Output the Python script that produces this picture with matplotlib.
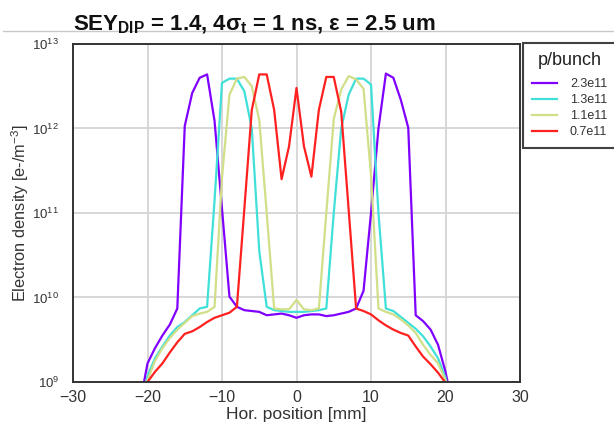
import numpy as np
import matplotlib
matplotlib.use("Agg")
import matplotlib.pyplot as plt
from matplotlib.lines import Line2D

plt.rcParams['font.family'] = ['Liberation Sans', 'DejaVu Sans']
plt.rcParams['mathtext.fontset'] = 'custom'
plt.rcParams['mathtext.rm'] = 'Liberation Sans'
plt.rcParams['mathtext.it'] = 'Liberation Sans'
plt.rcParams['mathtext.bf'] = 'Liberation Sans:bold'

x_mm = list(range(-21, 22))

log_23e11 = [8.75, 9.22, 9.40, 9.55, 9.68, 9.87, 12.03, 12.42, 12.60, 12.64, 12.09,
             11.05, 10.01, 9.89, 9.85, 9.84, 9.83, 9.79, 9.80, 9.81, 9.79, 9.76,
             9.79, 9.80, 9.80, 9.78, 9.79, 9.81, 9.83, 9.87, 10.08, 11.0, 12.0,
             12.65, 12.60, 12.34, 12.01, 9.79, 9.72, 9.62, 9.44, 9.12, 8.7]
log_13e11 = [8.6, 9.07, 9.28, 9.42, 9.55, 9.65, 9.71, 9.79, 9.87, 9.89, 11.15,
             12.54, 12.59, 12.59, 12.44, 12.0, 10.55, 9.89, 9.85, 9.84, 9.83, 9.83,
             9.83, 9.84, 9.85, 9.87, 11.0, 12.0, 12.40, 12.59, 12.59, 12.52, 11.0,
             9.87, 9.84, 9.77, 9.70, 9.63, 9.54, 9.42, 9.28, 9.05, 8.6]
log_11e11 = [8.6, 9.02, 9.25, 9.40, 9.52, 9.62, 9.70, 9.78, 9.81, 9.83, 9.89,
             11.42, 12.40, 12.59, 12.61, 12.50, 12.10, 11.0, 9.87, 9.86, 9.86, 9.97,
             9.86, 9.85, 9.87, 11.0, 12.11, 12.46, 12.62, 12.58, 12.47, 11.45, 9.87,
             9.83, 9.80, 9.74, 9.67, 9.58, 9.44, 9.32, 9.22, 9.02, 8.5]
log_07e11 = [8.5, 9.0, 9.12, 9.22, 9.35, 9.47, 9.57, 9.60, 9.65, 9.71, 9.76,
             9.79, 9.82, 9.89, 11.05, 12.22, 12.64, 12.64, 12.22, 11.40, 11.79, 12.48,
             11.79, 11.43, 12.22, 12.61, 12.61, 12.20, 11.04, 9.87, 9.84, 9.80, 9.73,
             9.67, 9.62, 9.58, 9.55, 9.42, 9.30, 9.21, 9.11, 8.99, 8.5]

labels = ['2.3e11', '1.3e11', '1.1e11', '0.7e11']
colors = ['#8000ff', '#40e0d8', '#d0df88', '#ff2020']
series = [log_23e11, log_13e11, log_11e11, log_07e11]

W, H = 614, 423
fig = plt.figure(figsize=(W / 100, H / 100), dpi=100)
ax = fig.add_axes([73 / W, 1 - 382 / H, (520 - 73) / W, (382 - 44) / H])

for lab, col, s in zip(labels, colors, series):
    ax.plot(x_mm, 10 ** np.array(s), color=col, lw=1.6, label=lab)

ax.set_yscale('log')
ax.set_xlim(-30, 30)
ax.set_ylim(1e9, 1e13)
ax.set_xticks([-30, -20, -10, 0, 10, 20, 30])
ax.set_xticklabels(['\u221230', '\u221220', '\u221210', '0', '10', '20', '30'])
ax.set_yticks([1e9, 1e10, 1e11, 1e12, 1e13])
ax.yaxis.set_minor_locator(matplotlib.ticker.NullLocator())
ax.grid(True, color='#d4d4d4', lw=1.3)
ax.set_axisbelow(True)
ax.tick_params(axis='both', length=0)
ax.tick_params(axis='x', labelsize=11.5, colors='#333333', pad=6)
ax.tick_params(axis='y', labelsize=9.5, colors='#333333', pad=10)
for sp in ax.spines.values():
    sp.set_color('#333333')
    sp.set_linewidth(1.4)

ax.set_xlabel('Hor. position [mm]', fontsize=12.5, color='#333333', labelpad=1)
ax.set_ylabel('Electron density [e-/m$^{-3}$]', fontsize=11.8, color='#333333', labelpad=1)

# slide separator line
fig.add_artist(Line2D([3 / W, 1.0], [1 - 31 / H, 1 - 31 / H], color='#c8c8c8', lw=1.0))

fig.text(73 / W, 1 - 30 / H, 'SEY$_\\mathbf{DIP}$ = 1.4, 4\u03c3$_\\mathbf{t}$ = 1 ns, \u03b5 = 2.5 um',
         fontsize=16, fontweight='bold', ha='left', va='baseline', color='#111111')

leg = fig.legend(loc='upper left', bbox_to_anchor=(523 / W, 1 - 43 / H),
                 title='p/bunch', fontsize=9, title_fontsize=13,
                 frameon=True, fancybox=False, borderpad=0.75, handlelength=2.0,
                 labelspacing=0.32, handletextpad=1.0, borderaxespad=0)
leg._legend_box.sep = 6.5
leg.get_frame().set_edgecolor('#111111')
leg.get_frame().set_linewidth(1.5)
for t in leg.get_texts():
    t.set_color('#333333')
leg.get_title().set_color('#222222')

fig.savefig('out.png', dpi=100)
